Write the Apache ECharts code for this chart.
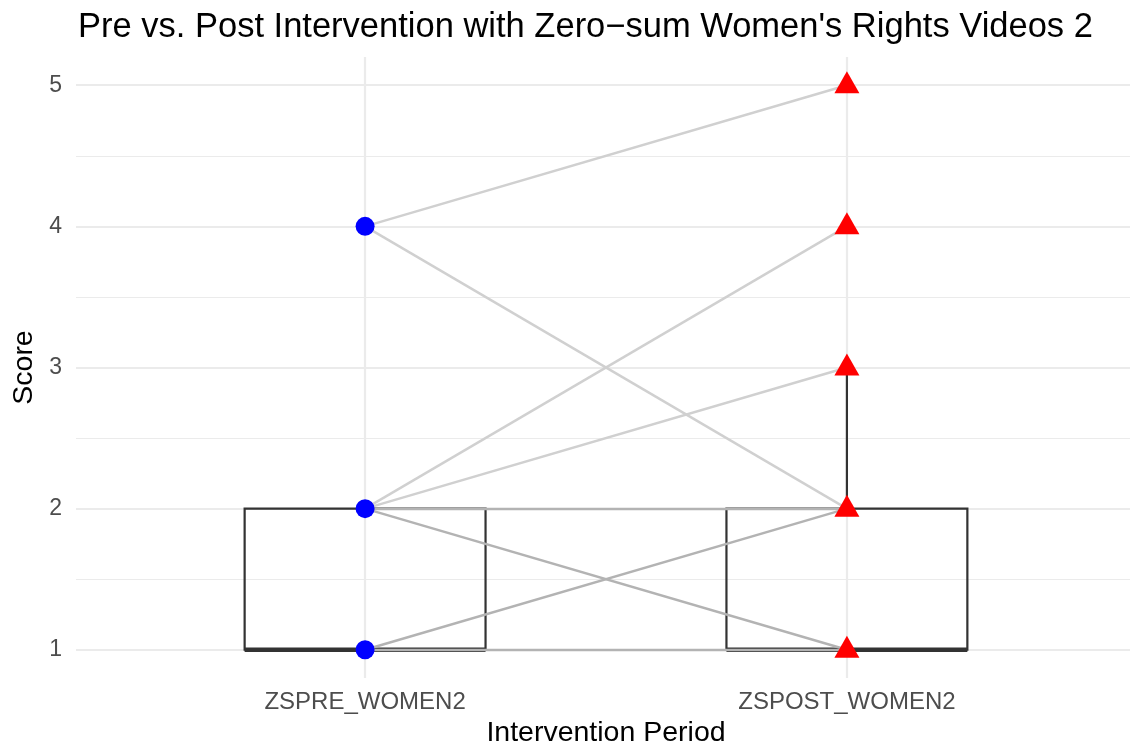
<!DOCTYPE html>
<html>
<head>
<meta charset="utf-8">
<script src="https://cdn.jsdelivr.net/npm/echarts@6/dist/echarts.min.js"></script>
<style>
html,body{margin:0;padding:0;background:#fff;}
#chart{width:1130px;height:747px;}
</style>
</head>
<body>
<div id="chart"></div>
<script>
// ---- data ----
const categories = ['ZSPRE_WOMEN2', 'ZSPOST_WOMEN2'];
const yTicks = [1, 2, 3, 4, 5];
const yMinor = [1.5, 2.5, 3.5, 4.5];
// distinct pre -> post pairs and how many participants follow each one
const pairPre   = [4, 4, 2, 2, 2, 2, 1, 1];
const pairPost  = [5, 2, 4, 3, 2, 1, 2, 1];
const pairCount = [1, 1, 1, 1, 2, 2, 2, 7];
// box stats: [lower whisker, Q1, median, Q3, upper whisker]
const boxPre  = [1, 1, 1, 2, 2];
const boxPost = [1, 1, 1, 2, 3];
// observed score values shown as points
const prePoints  = [4, 2, 1];
const postPoints = [5, 4, 3, 2, 1];

const FONT = 'Liberation Sans, Arial, sans-serif';
const chart = echarts.init(document.getElementById('chart'), null, {renderer: 'canvas'});

const xPos = categories.map((c, i) => i + 1);

const gridLines = [];
yTicks.forEach(v => gridLines.push({yAxis: v, lineStyle: {color: '#EBEBEB', width: 2.2, type: 'solid'}}));
yMinor.forEach(v => gridLines.push({yAxis: v, lineStyle: {color: '#EBEBEB', width: 1.1, type: 'solid'}}));
xPos.forEach(v => gridLines.push({xAxis: v, lineStyle: {color: '#EBEBEB', width: 2.2, type: 'solid'}}));

const boxData = [[xPos[0]].concat(boxPre), [xPos[1]].concat(boxPost)];

const lineData = pairPre.map((p, i) => ({
  coords: [[xPos[0], p], [xPos[1], pairPost[i]]],
  lineStyle: {color: pairCount[i] > 1 ? '#B3B3B3' : '#D0D0D0', width: 2.4, opacity: 1}
}));

const option = {
  animation: false,
  backgroundColor: '#ffffff',
  title: {
    text: 'Pre vs. Post Intervention with Zero\u2212sum Women\'s Rights Videos 2',
    left: 73, top: 5,
    textStyle: {fontFamily: FONT, fontSize: 34.5, fontWeight: 'normal', color: '#000'}
  },
  grid: {left: 76, width: 1060, top: 57, height: 621, outerBoundsMode: 'none', containLabel: false},
  xAxis: {
    type: 'value', min: 0.4, max: 2.6,
    name: 'Intervention Period', nameLocation: 'middle', nameGap: 41,
    nameTextStyle: {fontFamily: FONT, fontSize: 28.5, color: '#000'},
    axisLine: {show: false}, axisTick: {show: false}, splitLine: {show: false},
    axisLabel: {
      customValues: xPos,
      formatter: v => categories[Math.round(v) - 1] || '',
      fontFamily: FONT, fontSize: 24, color: '#4D4D4D', margin: 12
    }
  },
  yAxis: {
    type: 'value', min: 0.8, max: 5.2,
    name: 'Score', nameLocation: 'middle', nameGap: 31, nameRotate: 90,
    nameTextStyle: {fontFamily: FONT, fontSize: 28.5, color: '#000'},
    axisLine: {show: false}, axisTick: {show: false}, splitLine: {show: false},
    axisLabel: {
      customValues: yTicks,
      fontFamily: FONT, fontSize: 23, color: '#4D4D4D', margin: 14
    }
  },
  series: [
    {
      type: 'line', data: [], z: 0, silent: true,
      markLine: {silent: true, z: 0, symbol: ['none', 'none'], label: {show: false},
        animation: false, data: gridLines}
    },
    {
      type: 'custom', z: 10, silent: true,
      data: boxData,
      encode: {x: 0, y: [1, 2, 3, 4, 5]},
      renderItem: function (params, api) {
        const x = api.value(0);
        const lo = api.value(1), q1 = api.value(2), med = api.value(3), q3 = api.value(4), hi = api.value(5);
        const pL = api.coord([x - 0.25, q3]);
        const pR = api.coord([x + 0.25, q1]);
        const pMedL = api.coord([x - 0.25, med]);
        const pMedR = api.coord([x + 0.25, med]);
        const pC_q3 = api.coord([x, q3]);
        const pC_hi = api.coord([x, hi]);
        const pC_q1 = api.coord([x, q1]);
        const pC_lo = api.coord([x, lo]);
        const st = {stroke: '#333333', lineWidth: 2.2, fill: null};
        const children = [
          {type: 'rect', shape: {x: pL[0], y: pL[1], width: pR[0] - pL[0], height: pR[1] - pL[1]}, style: st},
          {type: 'line', shape: {x1: pMedL[0], y1: pMedL[1], x2: pMedR[0], y2: pMedR[1]}, style: {stroke: '#333333', lineWidth: 4.4}}
        ];
        if (hi > q3) children.push({type: 'line', shape: {x1: pC_q3[0], y1: pC_q3[1], x2: pC_hi[0], y2: pC_hi[1]}, style: {stroke: '#333333', lineWidth: 2.2}});
        if (lo < q1) children.push({type: 'line', shape: {x1: pC_q1[0], y1: pC_q1[1], x2: pC_lo[0], y2: pC_lo[1]}, style: {stroke: '#333333', lineWidth: 2.2}});
        return {type: 'group', children: children};
      }
    },
    {
      type: 'lines', coordinateSystem: 'cartesian2d', z: 20, silent: true,
      polyline: false, symbol: ['none', 'none'],
      data: lineData
    },
    {
      type: 'scatter', z: 30, silent: true,
      symbol: 'circle', symbolSize: 19,
      itemStyle: {color: '#0000FF', opacity: 1},
      data: prePoints.map(v => [xPos[0], v])
    },
    {
      type: 'scatter', z: 30, silent: true,
      symbol: 'triangle', symbolSize: [25, 22], symbolOffset: [0, -3],
      itemStyle: {color: '#FF0000', opacity: 1},
      data: postPoints.map(v => [xPos[1], v])
    }
  ]
};
chart.setOption(option);
</script>
</body>
</html>
